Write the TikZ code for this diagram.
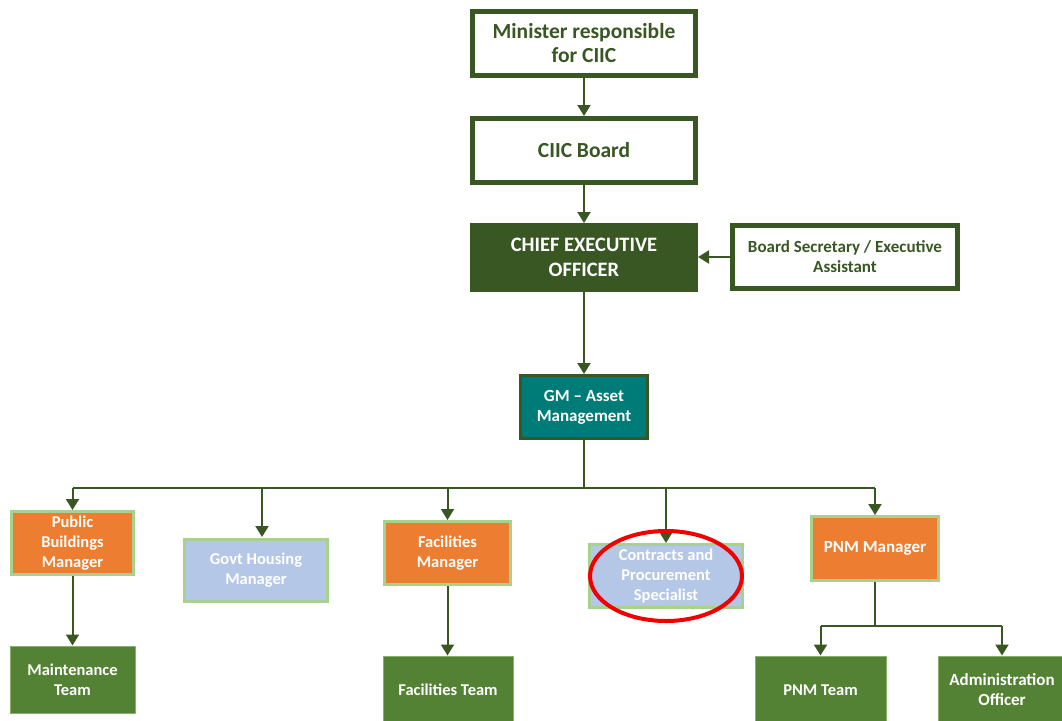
\documentclass[tikz,border=0pt]{standalone}
\usepackage{fontspec}
\setmainfont{Carlito}
\usetikzlibrary{arrows.meta}
\definecolor{dkgreen}{HTML}{385723}
\definecolor{tealc}{HTML}{007C78}
\definecolor{orangec}{HTML}{ED7D31}
\definecolor{ltblue}{HTML}{B4C7E7}
\definecolor{ltgreen}{HTML}{A9D18E}
\definecolor{midgreen}{HTML}{548235}
\definecolor{redc}{HTML}{F00000}
\tikzset{
  box/.style={rectangle, align=center, font=\bfseries\fontsize{16.5}{20}\selectfont, inner sep=0pt},
  topbox/.style={box, draw=dkgreen, line width=5pt, fill=white, text=dkgreen},
  ceobox/.style={box, draw=dkgreen, line width=2pt, fill=dkgreen, text=white},
  gmbox/.style={box, draw=dkgreen, line width=3pt, fill=tealc, text=white},
  orbox/.style={box, draw=ltgreen, line width=3pt, fill=orangec, text=white},
  bluebox/.style={box, draw=ltgreen, line width=3pt, fill=ltblue, text=white},
  teambox/.style={box, draw=ltgreen!60!midgreen, line width=1pt, fill=midgreen, text=white},
  link/.style={draw=dkgreen, line width=2pt},
  conn/.style={link, -{Triangle[width=13pt,length=11pt]}},
}
\begin{document}
\begin{tikzpicture}[x=1pt,y=-1pt]
\useasboundingbox (0,0) rectangle (1062,720);
\clip (0,0) rectangle (1062,720);
% top chain
\node[topbox, minimum width=223, minimum height=64, font=\bfseries\fontsize{21.5}{24}\selectfont] (min) at (584,43.5) {Minister responsible\\for CIIC};
\node[topbox, minimum width=223, minimum height=64, font=\bfseries\fontsize{21.5}{24}\selectfont] (board) at (584,150.5) {CIIC Board};
\node[ceobox, minimum width=226, minimum height=67, font=\bfseries\fontsize{20.5}{25}\selectfont] (ceo) at (584,257.5) {CHIEF EXECUTIVE\\OFFICER};
\node[topbox, minimum width=225, minimum height=63, font=\bfseries\fontsize{17}{20}\selectfont] (sec) at (845,257) {Board Secretary / Executive\\Assistant};
\node[gmbox, minimum width=127, minimum height=63, font=\bfseries\fontsize{17}{20}\selectfont] (gm) at (584,407) {GM -- Asset\\Management};
% managers
\node[orbox, minimum width=122, minimum height=63] (pb) at (72.5,543) {Public\\Buildings\\Manager};
\node[bluebox, minimum width=143, minimum height=62] (gh) at (256,570.5) {Govt Housing\\Manager};
\node[orbox, minimum width=126, minimum height=63] (fm) at (447.5,553) {Facilities\\Manager};
\node[bluebox, minimum width=153, minimum height=63] (cp) at (666,576) {Contracts and\\Procurement\\Specialist};
\node[orbox, minimum width=127, minimum height=64, font=\bfseries\fontsize{17}{20}\selectfont] (pnm) at (875,548.5) {PNM Manager};
% teams
\node[teambox, minimum width=125, minimum height=67] (mt) at (72.5,679.5) {Maintenance\\Team};
\node[teambox, minimum width=130, minimum height=68] (ft) at (448,690) {Facilities Team};
\node[teambox, minimum width=131, minimum height=68] (pt) at (820.5,690) {PNM Team};
\node[teambox, minimum width=128, minimum height=68, font=\bfseries\fontsize{17}{20}\selectfont] (ao) at (1002,690) {Administration\\Officer};
% connectors top
\draw[conn] (min) -- (board);
\draw[conn] (board) -- (ceo);
\draw[conn] (ceo) -- (gm);
\draw[conn] (sec.west) -- (sec.west -| ceo.east);
% bus
\coordinate (bus) at (584,488);
\draw[link] (gm.south) -- (bus);
\draw[link] (bus -| pb.north) -- (bus -| pnm.north);
\draw[conn] (bus -| pb.north) -- (pb.north);
\draw[conn] (bus -| 262,0) -- (262,537);
\draw[conn] (bus -| fm.north) -- (fm.north);
\draw[conn] (bus -| cp.north) -- (cp.north);
\draw[conn] (bus -| pnm.north) -- (pnm.north);
% lower
\draw[conn] (pb.south) -- (mt.north);
\draw[conn] (fm.south) -- (fm.south |- ft.north);
\coordinate (fork) at (875,626);
\draw[link] (pnm.south) -- (fork);
\draw[link] (fork -| pt.north) -- (fork -| ao.north);
\draw[conn] (fork -| pt.north) -- (pt.north);
\draw[conn] (fork -| ao.north) -- (ao.north);
% red ellipse
\draw[redc, line width=4pt] (cp.center) ellipse [x radius=76, y radius=45];
\end{tikzpicture}
\end{document}
